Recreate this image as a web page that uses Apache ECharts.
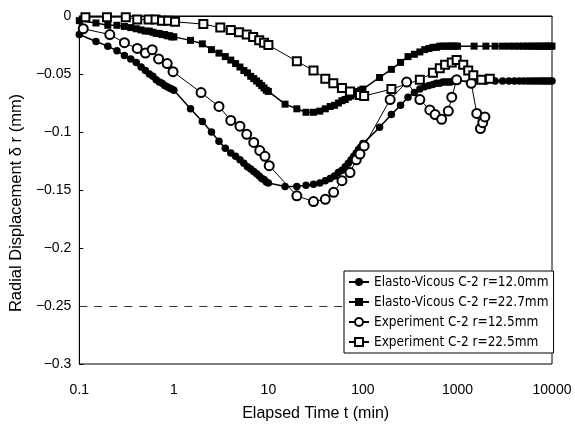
<!DOCTYPE html>
<html><head><meta charset="utf-8">
<script src="https://cdn.jsdelivr.net/npm/echarts@6/dist/echarts.min.js"></script>
<style>html,body{margin:0;padding:0;background:#fff}#c{width:575px;height:428px}</style>
</head><body><div id="c"></div>
<script>
var seriesNames = ['Elasto-Vicous C-2 r=12.0mm','Elasto-Vicous C-2 r=22.7mm','Experiment C-2 r=12.5mm','Experiment C-2 r=22.5mm'];
var xTicks = [0.1, 1, 10, 100, 1000, 10000];
var yTicks = [0, -0.05, -0.1, -0.15, -0.2, -0.25, -0.3];
var refLineY = -0.25;

var evTime = [0.1,0.15,0.2,0.25,0.3,0.35,0.4,0.45,0.5,0.55,0.6,0.65,0.7,0.75,0.8,0.85,0.9,0.95,1.0,
  1.5,2,2.5,3,3.5,4,4.5,5,5.5,6,6.5,7,7.5,8,8.5,9,9.5,10,
  15,20,25,30,35,40,45,50,55,60,65,70,75,80,85,90,95,100,
  150,200,250,300,350,400,450,500,550,600,650,700,750,800,850,900,950,1000,
  1500,2000,2500,3000,3500,4000,4500,5000,5500,6000,6500,7000,7500,8000,8500,9000,9500,10000];
var ev12 = [-0.016,-0.022,-0.026,-0.030,-0.034,-0.037,-0.040,-0.044,-0.047,-0.050,-0.052,-0.055,-0.057,-0.058,-0.060,-0.061,-0.062,-0.063,-0.064,
  -0.080,-0.091,-0.100,-0.108,-0.114,-0.118,-0.121,-0.124,-0.127,-0.130,-0.132,-0.134,-0.136,-0.138,-0.140,-0.141,-0.143,-0.144,
  -0.147,-0.147,-0.146,-0.145,-0.144,-0.142,-0.140,-0.138,-0.135,-0.133,-0.130,-0.127,-0.124,-0.121,-0.118,-0.115,-0.113,-0.110,
  -0.096,-0.085,-0.077,-0.070,-0.066,-0.063,-0.061,-0.060,-0.059,-0.058,-0.058,-0.057,-0.057,-0.057,-0.057,-0.056,-0.056,-0.056,
  -0.056,-0.056,-0.056,-0.056,-0.056,-0.056,-0.056,-0.056,-0.056,-0.056,-0.056,-0.056,-0.056,-0.056,-0.056,-0.056,-0.056,-0.056];
var ev22 = [-0.004,-0.006,-0.008,-0.008,-0.009,-0.010,-0.011,-0.012,-0.013,-0.013,-0.014,-0.015,-0.015,-0.016,-0.016,-0.017,-0.017,-0.018,-0.018,
  -0.021,-0.024,-0.029,-0.032,-0.035,-0.038,-0.041,-0.044,-0.047,-0.049,-0.052,-0.054,-0.056,-0.058,-0.060,-0.062,-0.064,-0.065,
  -0.076,-0.080,-0.083,-0.083,-0.082,-0.080,-0.078,-0.077,-0.075,-0.073,-0.072,-0.070,-0.069,-0.067,-0.066,-0.065,-0.064,-0.063,
  -0.053,-0.046,-0.040,-0.035,-0.033,-0.031,-0.029,-0.028,-0.027,-0.027,-0.026,-0.026,-0.026,-0.026,-0.026,-0.026,-0.026,-0.026,
  -0.026,-0.026,-0.026,-0.026,-0.026,-0.026,-0.026,-0.026,-0.026,-0.026,-0.026,-0.026,-0.026,-0.026,-0.026,-0.026,-0.026,-0.026];

var exp12Time = [0.11,0.21,0.30,0.41,0.50,0.59,0.69,0.85,0.98,1.94,3.0,4.0,5.0,5.9,7.0,8.1,9.2,10.2,20,30,40,49,60,73,85,93,103,194,290,400,510,580,680,800,870,980,1400,1600,1750,1850,1950];
var exp12 = [-0.011,-0.016,-0.023,-0.028,-0.032,-0.029,-0.037,-0.041,-0.048,-0.066,-0.078,-0.090,-0.095,-0.102,-0.109,-0.116,-0.121,-0.129,-0.155,-0.160,-0.158,-0.152,-0.142,-0.135,-0.124,-0.119,-0.112,-0.072,-0.057,-0.072,-0.081,-0.085,-0.089,-0.082,-0.070,-0.055,-0.058,-0.084,-0.097,-0.092,-0.087];

var exp22Time = [0.116,0.196,0.31,0.41,0.54,0.64,0.75,0.87,1.03,2.05,3.1,4.0,4.9,5.9,6.9,8.0,9.0,10,20,30,40,48.6,60,73,93,103,200,400,550,650,740,870,980,1150,1300,1470,1790,2200];
var exp22 = [-0.001,-0.001,-0.001,-0.003,-0.003,-0.003,-0.004,-0.004,-0.005,-0.007,-0.010,-0.012,-0.014,-0.016,-0.018,-0.021,-0.023,-0.025,-0.039,-0.047,-0.054,-0.058,-0.062,-0.065,-0.068,-0.069,-0.063,-0.055,-0.049,-0.045,-0.042,-0.040,-0.038,-0.042,-0.047,-0.051,-0.055,-0.054];

function pairs(t, v){ return t.map(function(x,i){ return [x, v[i]]; }); }

var chart = echarts.init(document.getElementById('c'), null, {renderer:'canvas'});
var font = "'Liberation Sans', Arial, sans-serif";
chart.setOption({
  animation: false,
  backgroundColor: '#fff',
  grid: {left: 79, right: 23, top: 16, bottom: 64, show: true, borderColor: '#000', borderWidth: 1, backgroundColor: 'transparent'},
  legend: {
    z: 20,
    orient: 'vertical', left: 344, top: 271,
    backgroundColor: '#fff', borderColor: '#000', borderWidth: 1,
    padding: [4, 5, 4, 4], itemGap: 6, itemWidth: 20, itemHeight: 10,
    textStyle: {fontFamily: "'Liberation Sans Narrow', 'DejaVu Sans Condensed', sans-serif", fontSize: 13.5, color: '#000'},
    data: seriesNames
  },
  xAxis: {
    type: 'log', logBase: 10, min: xTicks[0], max: xTicks[xTicks.length-1],
    name: 'Elapsed Time t (min)', nameLocation: 'middle', nameGap: 42,
    nameTextStyle: {fontFamily: font, fontSize: 16, color: '#000'},
    axisLine: {lineStyle: {color: '#000'}},
    axisTick: {show: false}, minorTick: {show: false},
    splitLine: {show: false},
    axisLabel: {fontFamily: font, fontSize: 14, color: '#000', margin: 19,
      formatter: function(v){ return String(Math.round(v*10)/10); }}
  },
  yAxis: {
    type: 'value', min: yTicks[yTicks.length-1], max: yTicks[0], interval: 0.05,
    name: 'Radial Displacement δ r (mm)', nameLocation: 'middle', nameGap: 52,
    nameTextStyle: {fontFamily: font, fontSize: 16.5, color: '#000', padding: [0, 26, 0, 0]},
    axisLine: {lineStyle: {color: '#000'}},
    axisTick: {show: true, inside: true, length: 4, lineStyle: {color: '#000'}},
    splitLine: {show: false},
    axisLabel: {fontFamily: font, fontSize: 14, color: '#000', margin: 8,
      formatter: function(v){ var r = Math.round(v*100)/100; return r === 0 ? '0' : '\u2212' + String(Math.abs(r)); }}
  },
  series: [
    {name: seriesNames[0], type: 'line', data: pairs(evTime, ev12), symbol: 'circle', symbolSize: 7.5,
     itemStyle: {color: '#000'}, lineStyle: {color: '#000', width: 1.5},
     markLine: {silent: true, symbol: 'none', label: {show: false}, z: 1,
       lineStyle: {color: '#333', width: 1, type: [8, 7]}, data: [{yAxis: refLineY}]}},
    {name: seriesNames[1], type: 'line', data: pairs(evTime, ev22), symbol: 'rect', symbolSize: 7,
     itemStyle: {color: '#000'}, lineStyle: {color: '#000', width: 1.5}},
    {name: seriesNames[2], type: 'line', data: pairs(exp12Time, exp12), symbol: 'emptyCircle', symbolSize: 9,
     itemStyle: {color: '#000', borderColor: '#000', borderWidth: 1}, lineStyle: {color: '#000', width: 1}},
    {name: seriesNames[3], type: 'line', data: pairs(exp22Time, exp22), symbol: 'emptyRect', symbolSize: 8,
     itemStyle: {color: '#000', borderColor: '#000', borderWidth: 1}, lineStyle: {color: '#000', width: 1}}
  ]
});
</script></body></html>
